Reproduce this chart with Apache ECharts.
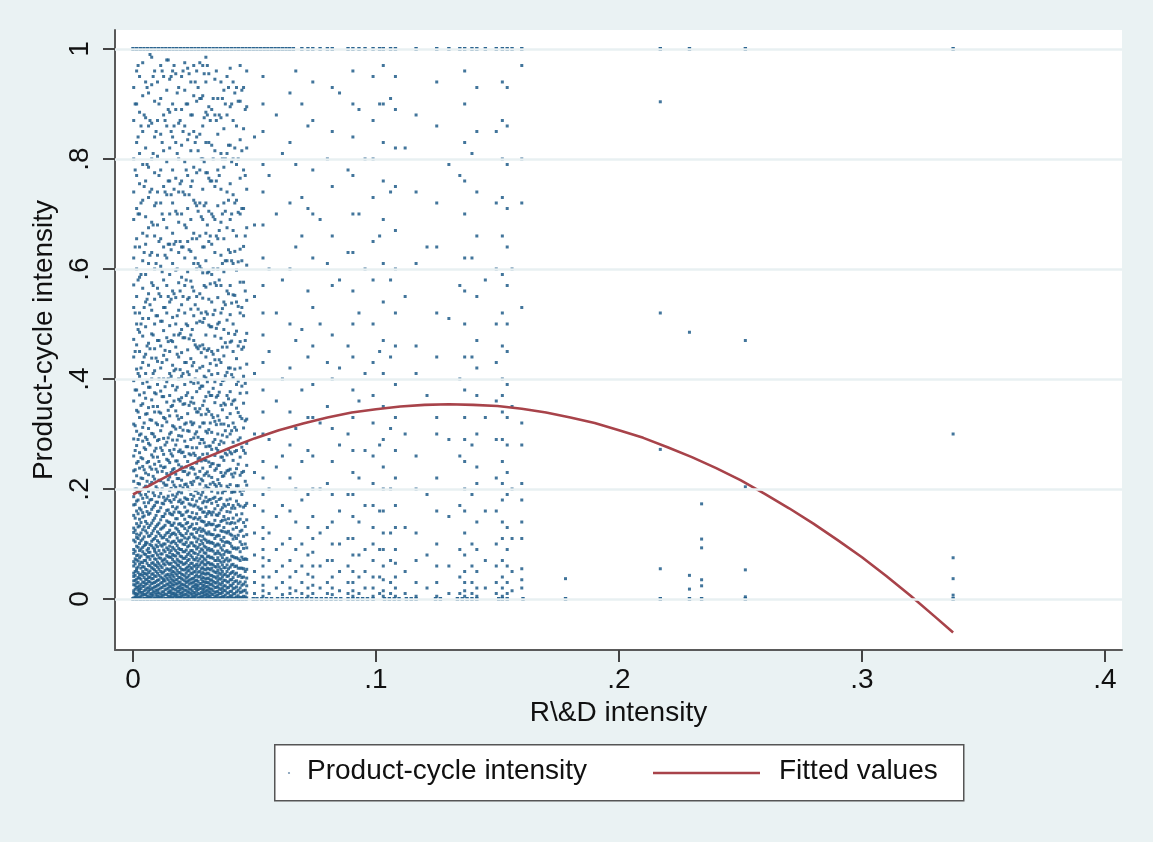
<!DOCTYPE html>
<html>
<head>
<meta charset="utf-8">
<script src="https://cdn.jsdelivr.net/npm/echarts@6/dist/echarts.min.js"></script>
<style>
html,body{margin:0;padding:0;background:#eaf2f3;}
#chart{width:1153px;height:842px;}
</style>
</head>
<body>
<div id="chart"></div>
<script>
// ---- tick labels ----
const xTickValues = [0, 0.1, 0.2, 0.3, 0.4];
const xTickLabels = ['0', '.1', '.2', '.3', '.4'];
const yTickValues = [0, 0.2, 0.4, 0.6, 0.8, 1];
const yTickLabels = ['0', '.2', '.4', '.6', '.8', '1'];

// ---- scatter: points at y = 1 (x values) ----
const topRowX = [0,.0015,.003,.0045,.006,.0075,.009,.0105,.012,.0135,.015,.0165,.018,.0195,.021,.0225,.024,.0255,.027,.0285,.03,.0315,.033,.0345,.036,.0375,.039,.0405,.042,.0435,.045,.0465,.048,.0495,.051,.0525,.054,.0555,.057,.0585,.06,.0615,.063,.0645,.066,.0695,.072,.074,.077,.08,.082,.0885,.0905,.093,.0955,.0988,.1015,.103,.106,.108,.1165,.125,.13,.1345,.1365,.1395,.1415,.145,.1495,.152,.154,.156,.16,.217,.229,.252,.3375];

// ---- scatter: points at y = 0 (x values) ----
const bottomRowX = [0,.0015,.003,.0045,.006,.0075,.009,.0105,.012,.0135,.015,.0165,.018,.0195,.021,.0225,.024,.0255,.027,.0285,.03,.0315,.033,.0345,.036,.0375,.039,.0405,.042,.0435,.045,.0465,.0495,.051,.053,.055,.057,.0595,.0615,.0635,.0655,.0675,.0695,.0715,.0735,.0755,.0775,.0795,.0815,.0835,.0855,.0885,.0905,.0925,.0945,.0965,.0988,.1035,.1055,.1075,.1095,.1125,.1145,.1165,.1245,.1265,.1335,.1355,.1375,.1395,.1415,.1505,.152,.154,.1605,.178,.217,.229,.234,.252,.3375];

// ---- scatter: dense columns, x then list of y ----
const denseColumns = [
  [.0003,[.002,.011,.015,.026,.033,.041,.047,.06,.068,.083,.09,.107,.121,.129,.152,.171,.186,.214,.233,.26,.291,.318,.36,.397,.44,.472,.53,.571,.62,.69,.74,.8,.87,.93]],
  [.0009,[.004,.01,.018,.025,.034,.043,.05,.064,.073,.087,.104,.125,.147,.172,.2,.235,.27,.315,.38,.45,.52,.64,.78,.9]],
  [.0015,[.005,.009,.021,.029,.036,.052,.056,.071,.079,.096,.112,.118,.137,.16,.178,.2,.224,.247,.279,.305,.343,.38,.418,.462,.5,.55,.6,.655,.71,.77,.83,.9,.96]],
  [.0021,[.002,.009,.016,.022,.03,.039,.048,.058,.069,.08,.094,.11,.131,.155,.18,.21,.25,.29,.34,.41,.49,.58,.7,.84,.97]],
  [.0027,[.003,.013,.018,.024,.038,.044,.063,.075,.088,.101,.116,.133,.145,.165,.193,.209,.238,.266,.298,.33,.371,.405,.45,.485,.52,.585,.64,.7,.755,.81,.885,.95]],
  [.0033,[.006,.012,.019,.027,.036,.045,.056,.067,.078,.091,.106,.12,.139,.162,.189,.22,.257,.3,.352,.42,.5,.59,.72,.86]],
  [.004,[.007,.012,.023,.031,.043,.05,.059,.066,.086,.094,.109,.126,.149,.157,.183,.219,.241,.255,.287,.312,.355,.392,.43,.478,.51,.565,.615,.665,.725,.79,.85,.915,.975]],
  [.0046,[.001,.008,.015,.023,.03,.039,.047,.058,.07,.082,.097,.113,.131,.151,.175,.202,.235,.275,.32,.375,.44,.53,.63,.75,.88]],
  [.0052,[.001,.008,.017,.027,.035,.046,.054,.07,.081,.099,.103,.124,.141,.168,.19,.205,.229,.272,.294,.336,.365,.41,.445,.495,.54,.59,.645,.695,.76,.82,.875,.94]],
  [.0058,[.005,.011,.02,.028,.036,.044,.053,.065,.076,.089,.102,.12,.137,.159,.185,.214,.248,.29,.337,.395,.46,.545,.66,.79,.93]],
  [.0064,[.004,.014,.02,.032,.039,.048,.061,.077,.085,.092,.114,.13,.154,.175,.196,.226,.25,.283,.31,.348,.385,.425,.465,.51,.555,.61,.675,.73,.785,.86,.92]],
  [.007,[.003,.009,.017,.024,.031,.04,.051,.06,.072,.085,.099,.115,.134,.156,.18,.208,.24,.28,.326,.385,.455,.535,.625,.74,.87,.99]],
  [.0077,[.006,.01,.019,.028,.037,.045,.057,.065,.078,.097,.105,.119,.138,.163,.181,.212,.236,.262,.301,.325,.362,.4,.438,.482,.525,.575,.63,.685,.745,.8,.865,.935,.985]],
  [.0083,[.007,.014,.02,.029,.037,.046,.055,.066,.079,.093,.108,.124,.143,.167,.193,.223,.258,.3,.35,.41,.48,.57,.68,.81,.95]],
  [.0089,[.002,.012,.022,.03,.042,.053,.062,.073,.087,.091,.11,.128,.147,.17,.188,.218,.245,.269,.295,.34,.375,.415,.455,.5,.545,.6,.66,.715,.775,.84,.905,.96]],
  [.0095,[.002,.008,.016,.023,.032,.041,.05,.061,.072,.084,.098,.114,.132,.152,.176,.204,.236,.274,.32,.373,.438,.515,.61,.72,.85]],
  [.0101,[.005,.011,.016,.025,.034,.047,.058,.067,.08,.095,.106,.122,.135,.159,.176,.2,.231,.258,.288,.317,.35,.39,.432,.47,.515,.565,.625,.68,.74,.805,.87,.94]],
  [.0107,[.004,.011,.018,.026,.035,.043,.054,.064,.075,.088,.103,.119,.138,.16,.186,.216,.25,.29,.34,.4,.47,.555,.65,.77,.9]],
  [.0114,[.003,.009,.02,.029,.04,.05,.06,.074,.082,.098,.115,.127,.144,.166,.192,.215,.242,.275,.306,.338,.378,.42,.46,.505,.55,.605,.655,.72,.78,.845,.91,.97]],
  [.012,[.006,.013,.021,.03,.038,.047,.057,.069,.082,.096,.111,.129,.15,.174,.2,.232,.27,.315,.368,.43,.505,.595,.7,.83,.96]],
  [.0126,[.007,.013,.024,.033,.036,.049,.064,.071,.089,.1,.112,.131,.15,.173,.185,.211,.239,.263,.292,.33,.368,.4,.443,.488,.53,.58,.64,.69,.75,.815,.88,.95]],
  [.0132,[.001,.009,.017,.024,.033,.042,.052,.062,.073,.086,.1,.116,.134,.155,.179,.207,.24,.28,.328,.386,.452,.53,.625,.74,.87]],
  [.0139,[.001,.008,.018,.027,.038,.044,.055,.068,.079,.093,.108,.12,.142,.161,.182,.207,.228,.254,.285,.322,.358,.395,.435,.475,.52,.57,.62,.675,.735,.795,.86,.925,.98]],
  [.0145,[.005,.012,.02,.027,.035,.045,.054,.065,.077,.09,.105,.121,.14,.162,.187,.217,.252,.293,.343,.4,.468,.55,.645,.76,.89,.98]],
  [.0151,[.004,.012,.015,.023,.031,.041,.052,.063,.076,.084,.096,.113,.125,.139,.156,.179,.198,.222,.248,.27,.3,.333,.37,.41,.45,.497,.54,.59,.645,.7,.76,.82,.885,.945]],
  [.0157,[.003,.008,.014,.022,.029,.037,.046,.055,.065,.076,.088,.102,.117,.134,.154,.176,.201,.23,.264,.303,.35,.405,.47,.545,.635,.735,.85,.95]],
  [.0163,[.002,.01,.019,.026,.034,.043,.05,.059,.072,.081,.094,.104,.119,.134,.153,.168,.189,.213,.235,.26,.289,.315,.352,.388,.425,.468,.512,.56,.61,.665,.72,.78,.84,.9,.96]],
  [.0169,[.006,.011,.018,.025,.032,.04,.049,.058,.068,.079,.091,.105,.12,.138,.158,.181,.207,.237,.272,.313,.36,.415,.48,.555,.645,.745,.86,.97]],
  [.0176,[.006,.009,.017,.028,.035,.046,.056,.066,.078,.088,.101,.117,.129,.146,.164,.186,.203,.227,.251,.28,.309,.342,.38,.418,.458,.5,.548,.598,.65,.705,.765,.83,.89,.955]],
  [.0182,[.002,.007,.013,.02,.027,.035,.043,.052,.062,.072,.084,.097,.111,.127,.146,.167,.191,.219,.251,.289,.333,.385,.445,.515,.6,.7,.81,.92]],
  [.0188,[.003,.014,.021,.03,.039,.048,.061,.069,.083,.092,.106,.123,.136,.158,.177,.195,.219,.244,.268,.297,.327,.363,.4,.44,.48,.525,.575,.63,.685,.74,.8,.865,.93]],
  [.0194,[.004,.01,.017,.024,.031,.039,.048,.057,.067,.078,.09,.104,.119,.137,.157,.18,.206,.236,.271,.312,.36,.417,.483,.56,.65,.755,.87]],
  [.02,[.005,.011,.02,.027,.037,.045,.054,.067,.077,.09,.107,.116,.133,.152,.174,.193,.216,.24,.266,.296,.33,.366,.405,.448,.49,.535,.585,.64,.7,.76,.825,.89,.95]],
  [.0206,[.007,.013,.019,.026,.035,.044,.053,.063,.074,.086,.1,.115,.133,.153,.176,.202,.232,.267,.307,.354,.41,.475,.55,.64,.74,.85,.96]],
  [.0213,[.002,.008,.016,.025,.033,.042,.053,.064,.074,.086,.099,.111,.128,.145,.167,.184,.208,.232,.259,.287,.318,.355,.39,.43,.475,.52,.57,.62,.68,.735,.795,.86,.925,.975]],
  [.0219,[.001,.009,.016,.023,.03,.038,.047,.056,.066,.077,.089,.103,.119,.137,.158,.182,.209,.24,.277,.32,.37,.43,.5,.58,.675,.78,.9]],
  [.0225,[.006,.013,.022,.032,.04,.051,.058,.07,.081,.095,.109,.124,.139,.16,.181,.204,.226,.25,.277,.306,.337,.375,.413,.453,.497,.545,.595,.65,.71,.77,.835,.9,.965]],
  [.0231,[.005,.012,.018,.027,.034,.043,.052,.061,.072,.084,.097,.112,.13,.15,.173,.199,.229,.264,.305,.352,.408,.473,.548,.635,.735,.845,.955]],
  [.0238,[.001,.01,.018,.029,.036,.047,.057,.065,.079,.088,.102,.118,.132,.149,.171,.19,.212,.238,.262,.29,.322,.358,.395,.437,.48,.527,.578,.632,.69,.75,.815,.88,.94]],
  [.0244,[.003,.008,.015,.022,.029,.037,.046,.055,.065,.076,.088,.102,.118,.136,.157,.181,.208,.239,.275,.317,.366,.424,.49,.567,.655,.76,.88]],
  [.025,[.004,.012,.023,.031,.038,.049,.06,.072,.084,.097,.113,.127,.146,.169,.187,.214,.236,.265,.293,.32,.356,.392,.43,.47,.515,.56,.61,.665,.725,.785,.85,.915,.97]],
  [.0256,[.006,.011,.019,.026,.033,.041,.05,.06,.071,.083,.096,.111,.128,.148,.171,.197,.227,.261,.3,.346,.4,.462,.535,.62,.72,.83,.94]],
  [.0262,[.007,.015,.021,.026,.034,.044,.055,.063,.075,.091,.104,.121,.137,.155,.178,.198,.22,.247,.275,.304,.34,.377,.415,.458,.502,.55,.6,.655,.715,.775,.84,.905,.96]],
  [.0268,[.002,.01,.017,.024,.032,.04,.049,.059,.069,.081,.094,.109,.126,.145,.167,.192,.221,.255,.294,.34,.393,.455,.527,.61,.705,.815,.93]],
  [.0275,[.003,.009,.019,.028,.041,.05,.062,.073,.086,.099,.115,.129,.148,.163,.183,.209,.232,.257,.283,.313,.346,.383,.42,.46,.505,.555,.605,.66,.72,.78,.845,.91,.975]],
  [.0281,[.004,.012,.02,.028,.036,.045,.055,.066,.078,.091,.106,.123,.142,.164,.189,.218,.251,.29,.335,.387,.448,.52,.6,.695,.8,.91]],
  [.0287,[.005,.011,.017,.024,.032,.039,.048,.057,.068,.077,.089,.101,.114,.127,.141,.158,.175,.194,.215,.238,.263,.29,.32,.352,.387,.423,.462,.503,.547,.593,.64,.69,.745,.8,.86,.915,.97]],
  [.0293,[.007,.013,.019,.025,.031,.038,.046,.054,.063,.073,.084,.096,.109,.124,.14,.158,.178,.2,.225,.253,.284,.32,.36,.405,.455,.51,.57,.64,.715,.795,.875,.955]],
  [.03,[.002,.008,.014,.022,.03,.036,.045,.053,.062,.071,.083,.094,.107,.12,.134,.15,.167,.185,.206,.228,.252,.277,.305,.336,.368,.402,.44,.48,.522,.567,.615,.665,.72,.775,.83,.885,.94,.985]],
  [.0306,[.003,.009,.016,.023,.03,.038,.047,.056,.066,.077,.089,.103,.118,.135,.155,.177,.202,.231,.264,.302,.345,.395,.452,.518,.593,.68,.775,.88,.97]],
  [.0312,[.006,.013,.02,.029,.037,.046,.055,.066,.078,.092,.105,.122,.139,.159,.18,.201,.224,.249,.278,.308,.341,.376,.415,.455,.498,.545,.595,.65,.705,.765,.83,.895,.955]],
  [.0318,[.005,.012,.018,.026,.034,.043,.053,.063,.075,.088,.102,.118,.136,.157,.181,.209,.241,.278,.32,.37,.428,.495,.573,.66,.76,.87]],
  [.0324,[.001,.009,.018,.027,.035,.043,.056,.064,.076,.09,.103,.117,.135,.153,.174,.196,.221,.246,.272,.303,.335,.37,.408,.45,.495,.54,.59,.645,.7,.76,.825,.89]],
  [.033,[.001,.008,.015,.024,.032,.041,.051,.062,.074,.087,.101,.117,.136,.158,.183,.212,.246,.285,.33,.383,.445,.517,.6,.695,.8,.91]],
  [.0337,[.004,.012,.021,.03,.04,.049,.059,.07,.082,.096,.11,.126,.143,.164,.185,.208,.234,.261,.29,.323,.357,.395,.435,.478,.525,.575,.63,.69,.75,.815,.88,.945]],
  [.0343,[.006,.013,.021,.029,.038,.048,.058,.07,.083,.098,.114,.132,.153,.177,.205,.237,.274,.317,.367,.425,.492,.57,.66,.76,.87,.96]],
  [.0349,[.007,.014,.023,.033,.042,.052,.063,.075,.087,.1,.116,.133,.152,.17,.193,.217,.243,.27,.3,.333,.37,.41,.452,.5,.548,.6,.655,.715,.78,.845,.91]],
  [.0355,[.002,.01,.019,.028,.037,.047,.058,.07,.083,.098,.115,.134,.156,.181,.21,.243,.281,.325,.376,.435,.503,.58,.67,.77,.88]],
  [.0362,[.003,.01,.017,.026,.036,.045,.054,.067,.08,.093,.108,.124,.141,.162,.183,.206,.23,.258,.287,.318,.352,.39,.43,.474,.52,.57,.625,.685,.745,.81,.875,.94]],
  [.0368,[.004,.012,.02,.03,.04,.05,.062,.075,.089,.105,.123,.143,.166,.193,.223,.258,.298,.344,.397,.458,.528,.61,.7,.8,.91]],
  [.0374,[.005,.016,.024,.034,.044,.057,.068,.081,.097,.112,.13,.15,.172,.197,.224,.252,.284,.318,.356,.398,.442,.49,.54,.595,.655,.72,.785,.855,.925]],
  [.038,[.007,.015,.024,.034,.045,.057,.071,.086,.103,.122,.144,.169,.197,.229,.265,.306,.353,.406,.466,.535,.615,.705,.8,.9]],
  [.0387,[.002,.011,.02,.031,.041,.05,.062,.074,.088,.104,.12,.138,.159,.18,.205,.233,.262,.295,.33,.37,.412,.458,.507,.56,.615,.675,.74,.81,.88,.95]],
  [.0393,[.003,.011,.021,.031,.042,.055,.069,.085,.103,.123,.146,.172,.201,.234,.272,.315,.364,.42,.483,.555,.635,.725,.825,.93]],
  [.04,[.006,.014,.025,.035,.046,.058,.071,.085,.101,.118,.137,.158,.182,.208,.236,.267,.3,.337,.377,.42,.467,.517,.57,.63,.69,.755,.825,.895,.965]],
  [.0406,[.005,.014,.024,.035,.048,.062,.078,.096,.116,.139,.165,.194,.227,.264,.306,.354,.408,.469,.538,.615,.7,.795,.9]],
  [.0412,[.001,.009,.019,.028,.039,.05,.063,.077,.092,.109,.127,.147,.17,.195,.222,.252,.285,.32,.36,.402,.45,.5,.553,.61,.67,.735,.8,.87,.94]],
  [.0419,[.002,.01,.02,.032,.045,.059,.075,.093,.114,.138,.165,.195,.229,.268,.312,.362,.418,.481,.552,.632,.72,.82,.92]],
  [.0426,[.004,.013,.022,.033,.047,.06,.075,.091,.11,.13,.153,.178,.206,.237,.27,.307,.347,.39,.437,.487,.54,.598,.66,.725,.79,.86,.93]],
  [.0433,[.006,.016,.028,.041,.056,.073,.093,.116,.142,.172,.206,.245,.289,.339,.396,.46,.532,.613,.703,.8,.905]],
  [.0441,[.003,.012,.02,.031,.043,.056,.07,.086,.104,.123,.145,.169,.196,.225,.258,.293,.332,.374,.42,.468,.52,.576,.636,.7,.765,.835,.905,.97]],
  [.0448,[.003,.013,.025,.039,.056,.076,.099,.125,.155,.19,.23,.276,.328,.387,.454,.53,.615,.71,.815,.925]],
  [.0455,[.005,.015,.027,.04,.055,.072,.092,.114,.139,.167,.198,.232,.27,.311,.356,.405,.458,.515,.576,.641,.71,.78,.855,.93]],
  [.0462,[.004,.016,.031,.05,.073,.1,.132,.17,.214,.265,.324,.392,.47,.56,.66,.77,.89]],
  [.0468,[.002,.011,.024,.038,.054,.072,.093,.117,.144,.174,.207,.243,.283,.327,.375,.427,.483,.543,.607,.675,.745,.82,.895,.96]]
];

// ---- scatter: sparse columns, x then list of y ----
const sparseColumns = [
  [.05,[.01,.03,.05,.08,.12,.17,.23,.3,.41,.55,.68,.84]],
  [.0535,[.005,.015,.025,.04,.06,.075,.09,.11,.13,.16,.19,.22,.25,.3,.34,.38,.43,.48,.52,.57,.62,.68,.74,.79,.85,.9,.95]],
  [.056,[.01,.04,.07,.12,.2,.29,.45,.6,.77]],
  [.059,[.02,.05,.09,.15,.24,.36,.52,.7,.88]],
  [.0615,[.008,.03,.06,.1,.17,.26,.4,.58,.81]],
  [.0646,[.01,.02,.04,.07,.11,.16,.22,.28,.34,.42,.5,.6,.72,.83,.92]],
  [.067,[.015,.05,.09,.14,.2,.31,.47,.64,.79,.96]],
  [.0695,[.01,.03,.06,.1,.18,.25,.38,.49,.66,.73,.9]],
  [.072,[.005,.02,.045,.08,.13,.19,.27,.33,.44,.56,.71,.86]],
  [.074,[.01,.025,.04,.06,.085,.11,.15,.2,.26,.33,.39,.46,.53,.62,.7,.78,.87,.94]],
  [.077,[.02,.06,.12,.2,.32,.5,.69]],
  [.08,[.01,.03,.07,.13,.21,.35,.43,.61,.8]],
  [.082,[.008,.02,.04,.07,.1,.14,.19,.25,.31,.4,.48,.57,.66,.75,.85,.93]],
  [.085,[.015,.05,.1,.16,.28,.42,.58,.92]],
  [.0885,[.01,.03,.06,.11,.19,.3,.46,.63,.78]],
  [.0905,[.005,.015,.03,.05,.08,.11,.15,.19,.23,.27,.33,.38,.44,.5,.56,.63,.7,.77,.84,.9,.96]],
  [.093,[.01,.04,.08,.14,.22,.36,.52,.7,.89]],
  [.0955,[.02,.05,.09,.17,.27,.41,.6,.8]],
  [.0988,[.005,.02,.04,.07,.1,.13,.17,.21,.26,.32,.37,.43,.5,.58,.65,.73,.8,.87,.95]],
  [.1015,[.01,.04,.09,.16,.28,.45,.66,.9]],
  [.103,[.005,.015,.035,.06,.09,.12,.16,.2,.24,.29,.35,.41,.47,.54,.61,.69,.76,.83,.9,.97]],
  [.106,[.01,.03,.07,.12,.2,.31,.44,.58,.74,.91]],
  [.108,[.005,.02,.04,.065,.09,.13,.17,.22,.27,.33,.39,.46,.52,.6,.67,.75,.82,.89,.95]],
  [.112,[.01,.05,.13,.3,.55,.82]],
  [.1165,[.005,.03,.07,.12,.2,.26,.41,.46,.61,.74,.88]],
  [.121,[.02,.08,.19,.37,.64]],
  [.125,[.005,.03,.06,.1,.16,.22,.3,.33,.44,.52,.64,.72,.86,.94]],
  [.13,[.01,.06,.15,.29,.51,.79]],
  [.1345,[.01,.04,.09,.17,.26,.4,.57,.77]],
  [.1365,[.005,.015,.03,.05,.08,.12,.16,.2,.25,.29,.33,.38,.44,.5,.56,.62,.7,.76,.83,.9,.96]],
  [.1395,[.01,.03,.06,.1,.19,.28,.44,.62,.81]],
  [.1415,[.005,.02,.05,.09,.14,.21,.24,.3,.37,.42,.47,.55,.66,.74,.85,.93]],
  [.145,[.02,.07,.16,.33,.58]],
  [.1495,[.01,.03,.06,.1,.16,.22,.29,.36,.43,.5,.6,.72,.85]],
  [.152,[.005,.02,.04,.07,.11,.14,.18,.21,.25,.29,.34,.37,.4,.46,.52,.59,.66,.73,.8,.87,.94]],
  [.154,[.01,.03,.06,.09,.13,.19,.23,.28,.33,.39,.45,.5,.57,.64,.71,.79,.86,.93]],
  [.156,[.015,.05,.11,.2,.35,.6]],
  [.16,[.02,.035,.055,.11,.14,.18,.21,.28,.32,.53,.72,.8,.97]],
  [.178,[.037]],
  [.217,[.055,.272,.52,.904]],
  [.229,[.018,.043,.485]],
  [.234,[.024,.035,.093,.109,.173]],
  [.252,[.004,.053,.204,.47]],
  [.3375,[.007,.037,.075,.3]]
];

// ---- fitted values (quadratic fit) ----
const fitX = [0,.01,.02,.03,.04,.05,.06,.07,.08,.09,.10,.11,.12,.13,.14,.15,.16,.17,.18,.19,.20,.21,.22,.23,.24,.25,.26,.27,.28,.29,.30,.31,.32,.33,.3375];
const fitY = [.190,.214,.237,.257,.275,.292,.307,.319,.330,.339,.345,.350,.353,.354,.353,.351,.346,.339,.330,.320,.307,.293,.276,.258,.238,.216,.191,.165,.137,.107,.076,.042,.006,-.032,-.061];

// ---- build series data ----
const rowPoints = [];
topRowX.forEach(x => rowPoints.push([x, 1]));
bottomRowX.forEach(x => rowPoints.push([x, 0]));
const cloudPoints = [];
denseColumns.concat(sparseColumns).forEach(([x, ys]) => ys.forEach(y => cloudPoints.push([x, y])));
const fitData = fitX.map((x, i) => [x, fitY[i]]);

const FONT = "'Liberation Sans', Arial, Helvetica, sans-serif";
const DOT = '#215d8a';
const FIT = '#a8434a';
const FS = 28;

const chart = echarts.init(document.getElementById('chart'), null, {renderer: 'canvas'});
chart.setOption({
  backgroundColor: '#eaf2f3',
  animation: false,
  textStyle: {fontFamily: FONT},
  grid: {left: 115, right: 31, top: 30, bottom: 192, show: true, backgroundColor: '#ffffff', borderWidth: 0},
  xAxis: {
    type: 'value', min: -0.0074, max: 0.407,
    name: 'R\\&D intensity', nameLocation: 'middle', nameGap: 47,
    nameTextStyle: {fontSize: FS, color: '#111', fontFamily: FONT},
    axisLine: {show: true, onZero: false, lineStyle: {color: '#5a5a5a', width: 2}},
    axisTick: {show: true, length: 12, lineStyle: {color: '#444', width: 2}, customValues: xTickValues},
    axisLabel: {show: true, fontSize: FS, color: '#111', margin: 16, fontFamily: FONT,
      customValues: xTickValues,
      formatter: v => { const i = xTickValues.findIndex(t => Math.abs(t - v) < 1e-9); return i >= 0 ? xTickLabels[i] : ''; }},
    splitLine: {show: false}
  },
  yAxis: {
    type: 'value', min: -0.0927, max: 1.0345,
    name: 'Product-cycle intensity', nameLocation: 'middle', nameGap: 51, nameRotate: 90,
    nameTextStyle: {fontSize: FS, color: '#111', fontFamily: FONT},
    axisLine: {show: true, onZero: false, lineStyle: {color: '#5a5a5a', width: 2}},
    axisTick: {show: true, length: 12, lineStyle: {color: '#444', width: 2}, customValues: yTickValues},
    axisLabel: {show: true, fontSize: FS, color: '#111', margin: 21, rotate: 90, fontFamily: FONT,
      customValues: yTickValues,
      formatter: v => { const i = yTickValues.findIndex(t => Math.abs(t - v) < 1e-9); return i >= 0 ? yTickLabels[i] : ''; }},
    splitLine: {show: false}
  },
  series: [
    {
      name: 'grid', type: 'line', data: [], z: 1, silent: true,
      markLine: {
        silent: true, symbol: 'none', animation: false,
        label: {show: false},
        lineStyle: {color: '#e8f0f2', width: 2.5, type: 'solid'},
        data: yTickValues.map(v => ({yAxis: v}))
      }
    },
    {
      name: 'Product-cycle intensity', type: 'scatter', data: cloudPoints, z: 2,
      symbol: 'rect', symbolSize: 3, silent: true,
      itemStyle: {color: DOT, opacity: 0.85}
    },
    {
      name: 'Product-cycle intensity', type: 'scatter', data: rowPoints, z: 2,
      symbol: 'rect', symbolSize: [3.4, 4], silent: true,
      itemStyle: {color: DOT, opacity: 0.95}
    },
    {
      name: 'Fitted values', type: 'line', data: fitData, z: 3, smooth: false,
      showSymbol: false, silent: true,
      lineStyle: {color: FIT, width: 2.6}
    }
  ],
  graphic: [
    {type: 'rect', left: 274, top: 744, z: 10,
      shape: {width: 689, height: 56},
      style: {fill: '#ffffff', stroke: '#555555', lineWidth: 1.5}},
    {type: 'circle', z: 11, shape: {cx: 289, cy: 773, r: 1.1}, style: {fill: '#7a98b3'}},
    {type: 'text', z: 11, left: 307, top: 757,
      style: {text: 'Product-cycle intensity', fontSize: FS, fill: '#111', fontFamily: FONT}},
    {type: 'line', z: 11, shape: {x1: 653, y1: 773, x2: 760, y2: 773}, style: {stroke: FIT, lineWidth: 2.6}},
    {type: 'text', z: 11, left: 779, top: 757,
      style: {text: 'Fitted values', fontSize: FS, fill: '#111', fontFamily: FONT}}
  ]
});
</script>
</body>
</html>
